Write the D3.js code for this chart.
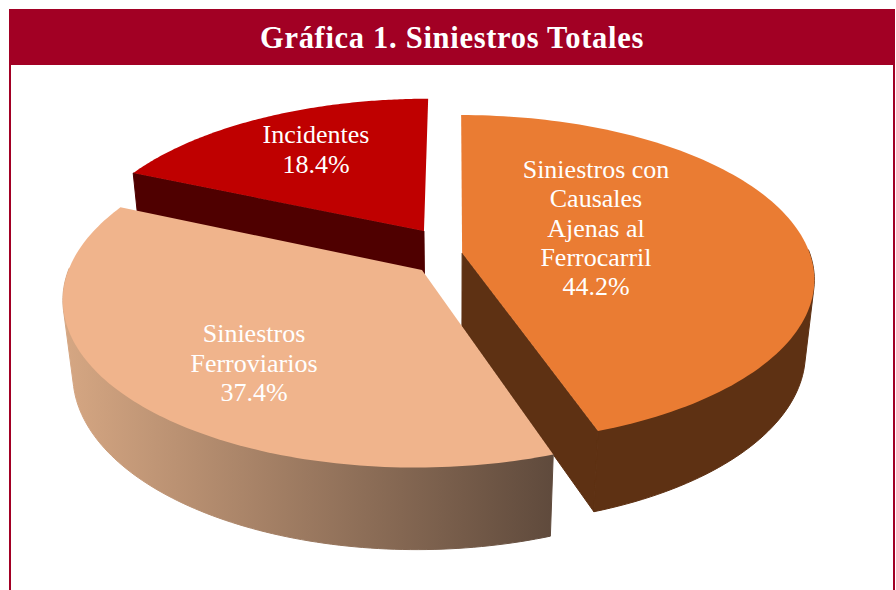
<!DOCTYPE html>
<html><head><meta charset="utf-8">
<script src="https://cdn.jsdelivr.net/npm/d3@7"></script>
<style>html,body{margin:0;padding:0;background:#fff}svg{display:block}</style>
</head><body><div id="c"></div>
<script>
const titleText = "Gráfica 1. Siniestros Totales";
const categories = ["Siniestros con Causales Ajenas al Ferrocarril","Siniestros Ferroviarios","Incidentes"];
const values = [44.2,37.4,18.4];
const labelLines = [["Siniestros con","Causales","Ajenas al","Ferrocarril","44.2%"],["Siniestros","Ferroviarios","37.4%"],["Incidentes","18.4%"]];
const topColors = ["#EA7C33","#F0B48C","#BF0000"];
const sideColors = ["#5E3113","url(#wall)","#4F0000"];
const explodeX = [0.0205,-0.0935,-0.0913];
const explodeY = [0,-0.104,0.14];
const drawOrder = [2,0,1];
const cutFace = ["endAngle",null,"startAngle"];
const outerWall = [true,true,false];
const labelAnchors = [[596,178],[254,342],[316,143]];
const lineSteps=[29.3,29.5,29.5];

const W=896,H=590;
const svg=d3.select("#c").append("svg").attr("width",W).attr("height",H);
const defs=svg.append("defs");
const g=defs.append("linearGradient").attr("id","wall").attr("gradientUnits","userSpaceOnUse")
  .attr("x1",63).attr("x2",553).attr("y1",0).attr("y2",0);
g.append("stop").attr("offset",0).attr("stop-color","#D6A783");
g.append("stop").attr("offset",1).attr("stop-color","#5F4A3C");

// frame
const crimson="#A20024";
svg.append("rect").attr("x",9).attr("y",9).attr("width",886).attr("height",56).attr("fill",crimson);
svg.append("rect").attr("x",9).attr("y",9).attr("width",2).attr("height",581).attr("fill",crimson);
svg.append("rect").attr("x",893).attr("y",9).attr("width",2).attr("height",581).attr("fill",crimson);
svg.append("text").attr("x",452).attr("y",47.5).attr("text-anchor","middle")
  .attr("font-family","'Liberation Serif',serif").attr("font-weight","bold").attr("font-size",30.5)
  .attr("letter-spacing",0.7).attr("fill","#fff").text(titleText);

// perspective projection of the pie plane
const Cx=455,Cy=253,R=347.5,K=160,p=0.16,q=0.025,D=75;
const project=(x,y,z)=>{const w=1+p*y+q*z;return [Cx+R*x/w,Cy-K*y/w+D*z/w];};

const arcs=d3.pie().sort(null).value(d=>d)(values);
const warpEnd=arcs[1].endAngle, warpAmt=1.7*Math.PI/180;
const warp=a=>a<warpEnd?a+warpAmt*Math.sin(a/warpEnd*Math.PI):a;
const pt=(i,a,r,z)=>{const t=warp(a);return project(explodeX[i]+r*Math.sin(t),explodeY[i]+r*Math.cos(t),z);};
const line=d3.line();
const angles=(i)=>{const d=arcs[i];const n=120;return d3.range(n+1).map(k=>d.startAngle+(d.endAngle-d.startAngle)*k/n);};

const root=svg.append("g");
drawOrder.forEach(i=>{
  const d=arcs[i];
  const slice=root.append("g");
  const side=(pts)=>slice.append("path").attr("fill",sideColors[i]).attr("stroke",sideColors[i]).attr("stroke-width",1)
      .attr("stroke-linejoin","round").attr("d",line(pts)+"Z");
  if(cutFace[i]){const a=d[cutFace[i]];side([pt(i,a,0,0),pt(i,a,1,0),pt(i,a,1,1),pt(i,a,0,1)]);}
  if(outerWall[i]){
    // only the front of the rim, down from the silhouette tangent, can be seen
    const front=angles(i).filter(a=>Math.cos(warp(a))<0.02);
    side(d3.polygonHull(front.map(a=>pt(i,a,1,0)).concat(front.map(a=>pt(i,a,1,1)))));
  }
  const top=angles(i).map(a=>pt(i,a,1,0));
  slice.append("path").attr("fill",topColors[i]).attr("d",line(top.concat([pt(i,0,0,0)]))+"Z");
});

labelLines.forEach((ls,i)=>{
  const t=svg.append("text").attr("text-anchor","middle").attr("fill","#fff")
    .attr("font-family","'Liberation Serif',serif").attr("font-size",26);
  ls.forEach((s,j)=>t.append("tspan").attr("x",labelAnchors[i][0]).attr("y",labelAnchors[i][1]+j*lineSteps[i]).text(s));
});
</script></body></html>
